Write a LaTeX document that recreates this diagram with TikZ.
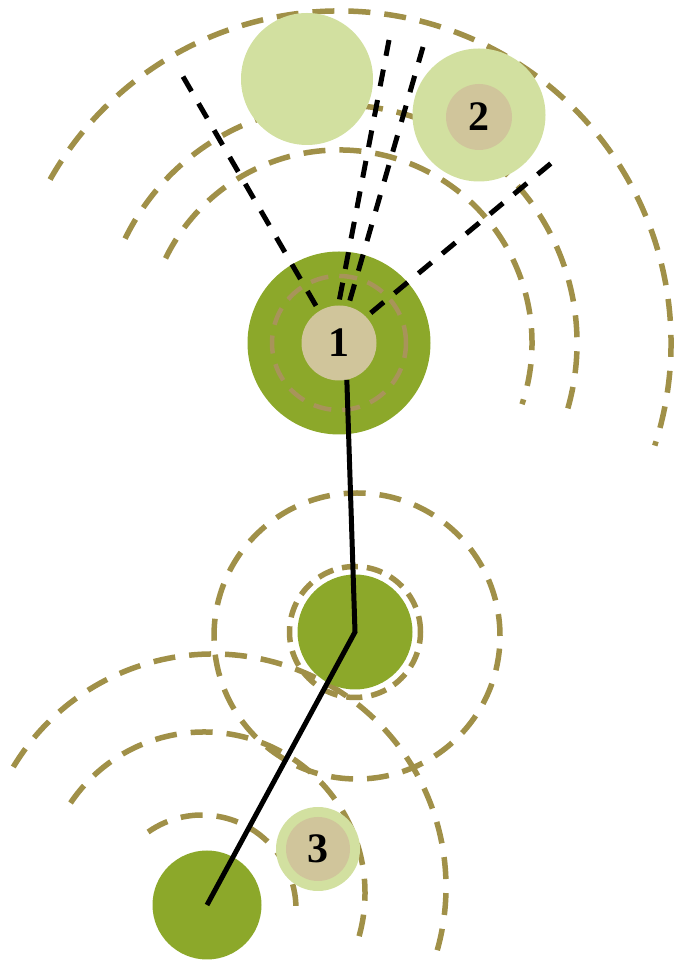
\documentclass[tikz,border=0pt]{standalone}
\usepackage{fontspec}
\setmainfont{Liberation Serif}
\usepackage{tikz}
\usetikzlibrary{calc}
\definecolor{leaf}{RGB}{140,168,42}
\definecolor{leaflight}{RGB}{210,224,160}
\definecolor{trunk}{RGB}{208,197,155}
\definecolor{reachtan}{RGB}{160,144,72}
\definecolor{ringtan}{RGB}{168,148,90}

\begin{document}
\begin{tikzpicture}[x=1pt, y=1pt,
  every node/.style={font=\fontsize{42}{42}\selectfont\bfseries},
  crown/.style={circle, fill=leaf, inner sep=0pt, minimum size=#1},
  crownlight/.style={circle, fill=leaflight, inner sep=0pt, minimum size=#1},
  core/.style={circle, fill=trunk, inner sep=0pt, minimum size=#1},
  reach/.style={draw=reachtan, line width=5.5pt, dash pattern=on 22pt off 14pt},
  ringin/.style={draw=ringtan, line width=4.5pt, dash pattern=on 18pt off 11pt},
  sight/.style={draw=black, line width=5pt, dash pattern=on 17pt off 14pt, shorten <=6pt},
  route/.style={draw=black, line width=5pt}
]
\useasboundingbox (0,0) rectangle (674,961);

% centres of the spreads
\coordinate (c1) at (339,618);
\coordinate (cA) at (213,74);
\coordinate (cB) at (204,68);
\coordinate (cC) at (202,52);

% spread of tree 1
\draw[reach] (c1) ++(150.5:332pt) arc[start angle=150.5, end angle=-18, radius=332pt];
\draw[reach] (c1) ++(154:238pt) arc[start angle=154, end angle=-16, radius=238pt];
\draw[reach] (c1) ++(154:193pt) arc[start angle=154, end angle=-18.5, radius=193pt];

% spread of the lower trees
\draw[reach] (357,325) circle[radius=143pt];
\draw[reach] (cA) ++(149:233pt) arc[start angle=149, end angle=-16.5, radius=233pt];
\draw[reach] (cB) ++(146:161pt) arc[start angle=146, end angle=-16, radius=161pt];
\draw[reach] (cC) ++(125:94pt) arc[start angle=125, end angle=-5, radius=94pt];

% trees
\node[crownlight=132pt] (tA) at (307,882) {};
\node[crownlight=133pt] (t2) at (479,846) {};
\node[core=66pt] (k2) at (479,844) {2};
\node[crown=183pt] (t1) at (339,618) {};
\draw[ringin] (t1) circle[radius=67pt];
\node[core=75pt] (k1) at (t1) {1};
\node[crown=115pt] (tm) at (355,329) {};
\draw[reach, dash pattern=on 16pt off 9pt] (tm) circle[radius=65.5pt];
\node[crown=109pt] (tb) at (207,56) {};
\node[crownlight=84pt] (t3) at (318,112) {};
\node[core=64pt] (k3) at (t3) {3};

% lines of sight
\coordinate (e1) at (178,893);
\coordinate (e2) at (389,921);
\coordinate (e3) at (423,914);
\coordinate (e4) at (555,801);
\draw[sight] (k1.122) -- (e1);
\draw[sight] (k1.91) -- (e2);
\draw[sight] (k1.76) -- (e3);
\draw[sight] (k1.44) -- (e4);

% route
\draw[route] (k1.-78) -- (tm.center) -- (tb.center);
\end{tikzpicture}
\end{document}
